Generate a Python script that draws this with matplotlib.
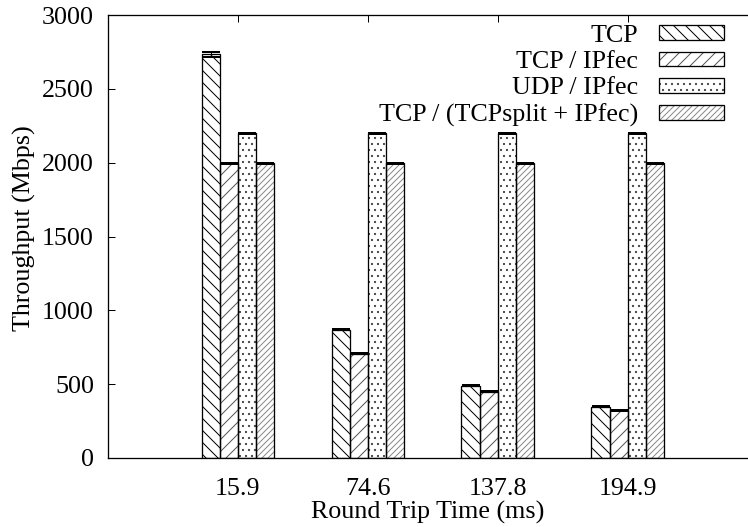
import numpy as np
import matplotlib
matplotlib.use("Agg")
import matplotlib.pyplot as plt
from matplotlib.patches import Rectangle
from matplotlib.legend_handler import HandlerPatch

# Throughput per round trip time (Mbps)
rtt_labels = ["15.9", "74.6", "137.8", "194.9"]
series_names = ["TCP", "TCP / IPfec", "UDP / IPfec", "TCP / (TCPsplit + IPfec)"]
tcp = [2735, 869, 489, 347]
tcp_ipfec = [1995, 706, 449, 323]
udp_ipfec = [2200, 2200, 2200, 2200]
tcp_split_ipfec = [1995, 1995, 1995, 1995]
tcp_err = [17, 3, 3, 3]
tcp_ipfec_err = [3, 3, 3, 3]
udp_ipfec_err = [3, 3, 3, 3]
tcp_split_ipfec_err = [3, 3, 3, 3]

plt.rcParams["font.family"] = ["Liberation Serif", "DejaVu Serif"]
plt.rcParams["hatch.linewidth"] = 1.0

FS = 26
DPI = 72
fig = plt.figure(figsize=(748 / DPI, 527 / DPI), dpi=DPI)
ax = fig.add_axes([108 / 748, 69 / 527, 1 - 108 / 748, (458 - 15) / 527])

values = [tcp, tcp_ipfec, udp_ipfec, tcp_split_ipfec]
errors = [tcp_err, tcp_ipfec_err, udp_ipfec_err, tcp_split_ipfec_err]
hatches = ["\\\\", "//", "..", "////"]
hatch_colors = ["black", "#555555", "#444444", "#8a8a8a"]

x = np.arange(len(rtt_labels))
w = 0.14
handles = []
for i, (vals, errs) in enumerate(zip(values, errors)):
    pos = x + (i - 1.5) * w
    # hatch layer (hatch colour follows edgecolor)
    ax.bar(pos, vals, width=w, color="white", edgecolor=hatch_colors[i],
           hatch=hatches[i], linewidth=0, zorder=2)
    # black outline on top
    ax.bar(pos, vals, width=w, fill=False, edgecolor="black",
           linewidth=1.3, zorder=3)
    ax.errorbar(pos, vals, yerr=errs, fmt="none", ecolor="black",
                elinewidth=1.0, capsize=9, capthick=2.0, zorder=4)
    handles.append(Rectangle((0, 0), 1, 1, facecolor="white",
                             edgecolor=hatch_colors[i], hatch=hatches[i],
                             linewidth=0))

ax.set_xlim(-1.0, 3.925)
ax.set_ylim(0, 3000)
ax.set_yticks(np.arange(0, 3001, 500))
ax.set_xticks(x)
ax.set_xticklabels(rtt_labels)
ax.spines["right"].set_visible(False)
for s in ["left", "top", "bottom"]:
    ax.spines[s].set_linewidth(1.3)

ax.tick_params(axis="both", direction="in", length=7, width=1.0,
               labelsize=FS, top=True)
ax.tick_params(axis="y", pad=14)
ax.tick_params(axis="x", pad=20)

ax.set_xlabel("Round Trip Time (ms)", fontsize=FS, labelpad=1)
ax.set_ylabel("Throughput (Mbps)", fontsize=FS)
ax.yaxis.set_label_coords(-0.112, 0.52)


class OutlinedHandler(HandlerPatch):
    def create_artists(self, legend, orig_handle, xdescent, ydescent,
                       width, height, fontsize, trans):
        fill = Rectangle((-xdescent, -ydescent), width, height,
                         facecolor="white", edgecolor=orig_handle.get_edgecolor(),
                         hatch=orig_handle.get_hatch(), linewidth=0,
                         transform=trans)
        edge = Rectangle((-xdescent, -ydescent), width, height, fill=False,
                         edgecolor="black", linewidth=1.3, transform=trans)
        return [fill, edge]


leg = fig.legend(handles, series_names, loc="upper right",
                 bbox_to_anchor=(724 / 748, 1 - 25 / 527),
                 frameon=False, fontsize=FS, markerfirst=False,
                 handlelength=2.5, handleheight=0.5, handletextpad=0.8,
                 labelspacing=0.16, borderpad=0, borderaxespad=0,
                 handler_map={Rectangle: OutlinedHandler()})

fig.savefig("out.png", dpi=DPI)
